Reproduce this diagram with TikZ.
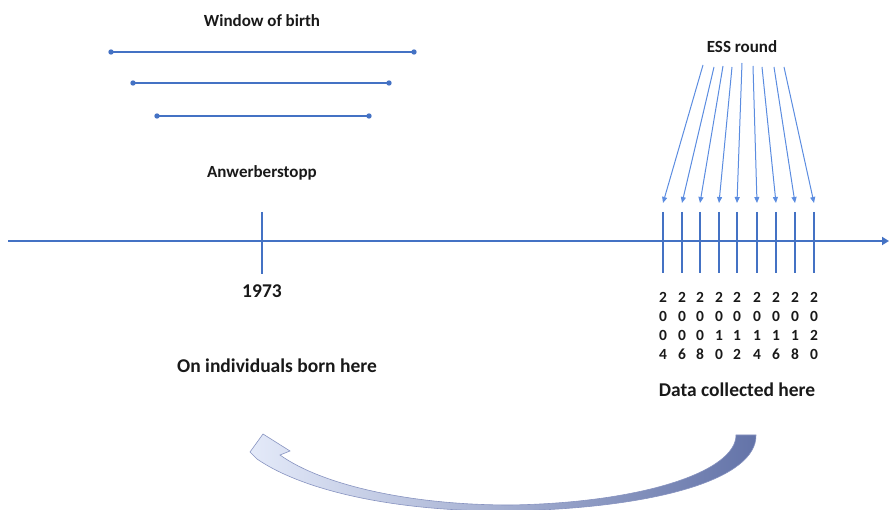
\documentclass[tikz,border=0pt]{standalone}
\usepackage{fontspec}
\setmainfont{Carlito}
\usepackage{xcolor}
\usetikzlibrary{positioning, calc, arrows.meta}

\definecolor{lineblue}{HTML}{4472C4}
\definecolor{arrowblue}{HTML}{5B8CE0}
\definecolor{bendlight}{HTML}{E4EAF9}
\definecolor{benddark}{HTML}{6373A8}
\definecolor{bendedge}{HTML}{8793C0}

\newcommand{\yeardigits}[4]{#1,#2,#3,#4}

\tikzset{
  smalltxt/.style={font=\fontsize{17}{20}\selectfont\bfseries, text=black!90, inner sep=0pt, anchor=base},
  bigtxt/.style={font=\fontsize{19.5}{23}\selectfont\bfseries, text=black!90, inner sep=0pt, anchor=base},
  yeartxt/.style={font=\fontsize{15.5}{19}\selectfont\bfseries, text=black!90, inner sep=0pt, anchor=base},
  axisline/.style={line width=2.6pt, draw=lineblue, -{Triangle[length=7pt,width=8pt]}},
  yeartick/.style={line width=2.6pt, draw=lineblue},
  windowline/.style={line width=1.9pt, draw=lineblue},
  essarrow/.style={line width=1pt, draw=arrowblue, -{Triangle[length=6pt,width=5pt]}}
}

\begin{document}
\begin{tikzpicture}[x=1pt, y=-1pt]
    \useasboundingbox (0,0) rectangle (889,510);

    % 1. Window of birth
    \node[smalltxt] (window) at (262,27) {Window of birth};
    \foreach \l/\r/\h [count=\i] in {111/414/52, 133/389/83, 157/369/116} {
        \coordinate (wl\i) at (\l,\h);
        \coordinate (wr\i) at (\r,\h);
        \draw[windowline] (wl\i) -- (wr\i);
        \fill[lineblue] (wl\i) circle (2.7pt) (wr\i) circle (2.7pt);
    }

    % 2. Time axis and 1973
    \coordinate (axstart) at (8,241);
    \coordinate (axend) at (889,241);
    \draw[axisline] (axstart) -- (axend);
    \node[smalltxt] (stop) at (262,178) {Anwerberstopp};
    \coordinate (stoptop) at (262,212);
    \coordinate (stopbot) at (262,274);
    \draw[yeartick] (stoptop) -- (stopbot);
    \node[bigtxt] (year) at (262,298) {1973};
    \node[bigtxt] (born) at (277,373) {On individuals born here};

    % 3. ESS rounds
    \node[smalltxt] (ess) at (742,53) {ESS round};
    \foreach \yr/\tx/\sx/\sy [count=\i] in {2004/663/703/65, 2006/682/714/67,
        2008/700/723/66, 2010/719/732/67, 2012/737/742/63, 2014/757/753/66,
        2016/776/762/67, 2018/795/774/67, 2020/814/784/67} {
        \coordinate (tt\i) at (\tx,212);
        \coordinate (tb\i) at (\tx,273);
        \draw[yeartick] (tt\i) -- (tb\i);
        \coordinate (es\i) at (\sx,\sy);
        \coordinate (ee\i) at (\tx,203);
        \draw[essarrow] (es\i) -- (ee\i);
        % digits of the year, one under the other
        \edef\dlist{\expandafter\yeardigits\yr}
        \foreach \dg [count=\j] in \dlist
            \node[yeartxt] (y\yr-\j) at (\tx,{303+19*(\j-1)}) {\dg};
    }
    \node[bigtxt] (data) at (737,397) {Data collected here};

    % 4. Curved arrow back
    \shade[left color=bendlight, right color=benddark, draw=bendedge, line width=0.6pt]
        (756,435) .. controls (757,478) and (660,508) .. (510,511)
        .. controls (400,512) and (305,492) .. (257,459)
        -- (250,452) -- (263,434) -- (290,451) -- (280,455)
        .. controls (322,485) and (410,505) .. (510,505)
        .. controls (640,503) and (736,472) .. (736,435) -- cycle;

\end{tikzpicture}
\end{document}
